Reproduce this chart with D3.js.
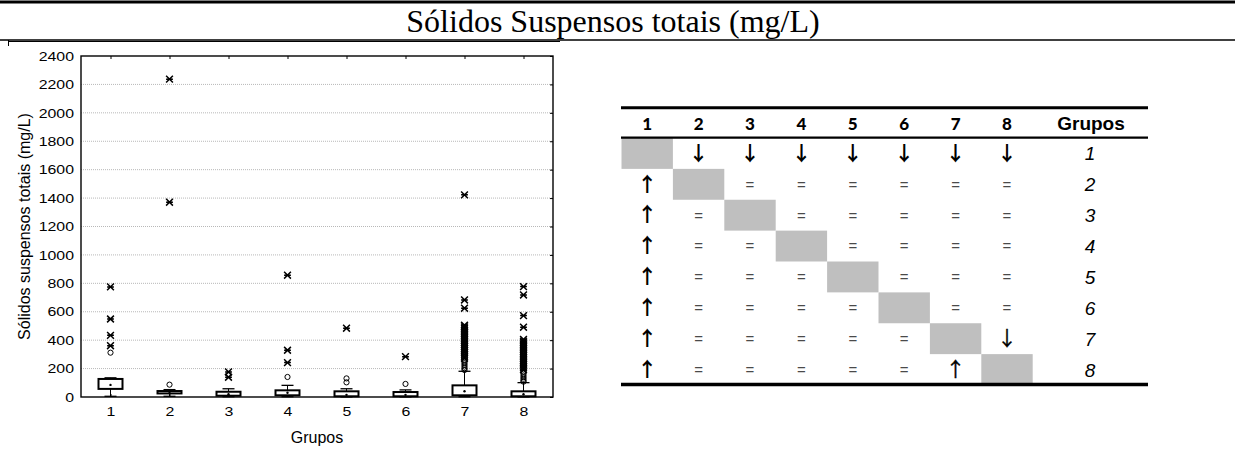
<!DOCTYPE html>
<html><head><meta charset="utf-8">
<script src="https://cdn.jsdelivr.net/npm/d3@7"></script>
<style>body{margin:0;background:#fff;} svg{display:block;}</style>
</head><body>
<svg id="c" width="1235" height="450"></svg>
<script>
// ---------- data ----------
const titleText = "Sólidos Suspensos totais (mg/L)";
const yLabel = "Sólidos suspensos totais (mg/L)";
const xLabel = "Grupos";
const groups = ["1","2","3","4","5","6","7","8"];
const yTickValues = [0,200,400,600,800,1000,1200,1400,1600,1800,2000,2200,2400];
const whiskerLow  = [5, 5, 2, 2, 1, 1, 2, 1];
const q1          = [57, 25, 9, 12, 5, 5, 12, 5];
const median      = [85, 35, 20, 30, 15, 15, 40, 19];
const q3          = [127, 42, 37, 47, 40, 35, 82, 40];
const whiskerHigh = [135, 52, 58, 82, 58, 50, 181, 101];
const outliers = [
  [312],
  [87],
  [],
  [141],
  [131, 103],
  [92],
  [262, 250, 238, 226, 214, 202, 190],
  [178, 165, 152, 140, 128, 116, 108]
];
const extremes = [
  [775, 549, 434, 361],
  [2237, 1371],
  [176, 139],
  [857, 329, 242],
  [484],
  [284],
  [1423, 683, 625, 505, 493, 481, 469, 456, 444, 432, 420, 407, 395, 383, 370, 357, 343, 329, 315, 300, 286, 273],
  [777, 718, 573, 491, 405, 393, 381, 369, 356, 344, 331, 319, 306, 293, 281, 268, 256, 243, 230, 218, 205, 192]
];
const tableHeader = ["1","2","3","4","5","6","7","8"];
const tableGroupHeader = "Grupos";
const rowLabels = ["1","2","3","4","5","6","7","8"];
const tableCells = [
  ["",  "↓","↓","↓","↓","↓","↓","↓"],
  ["↑", "", "=","=","=","=","=","="],
  ["↑", "=","", "=","=","=","=","="],
  ["↑", "=","=","", "=","=","=","="],
  ["↑", "=","=","=","", "=","=","="],
  ["↑", "=","=","=","=","", "=","="],
  ["↑", "=","=","=","=","=","", "↓"],
  ["↑", "=","=","=","=","=","↑",""]
];

// ---------- drawing ----------
const svg = d3.select("#c");
svg.append("rect").attr("width",1235).attr("height",450).attr("fill","#fff");

function stretch(sel, k) {
  sel.each(function () {
    const len = this.getComputedTextLength();
    if (len > 0) d3.select(this).attr("textLength", len * k).attr("lengthAdjust", "spacingAndGlyphs");
  });
}

// page lines (title box)
svg.append("line").attr("x1",0).attr("x2",1235).attr("y1",2).attr("y2",2).attr("stroke","#000").attr("stroke-width",3);
svg.append("line").attr("x1",0).attr("x2",1235).attr("y1",40).attr("y2",40).attr("stroke","#000").attr("stroke-width",1.5);
svg.append("line").attr("x1",8).attr("x2",560).attr("y1",41.5).attr("y2",41.5).attr("stroke","#000").attr("stroke-width",1);
svg.append("line").attr("x1",8.5).attr("x2",8.5).attr("y1",40).attr("y2",46).attr("stroke","#000").attr("stroke-width",1);

svg.append("text").attr("x",613).attr("y",32).attr("text-anchor","middle")
  .attr("font-family","'Liberation Serif','Times New Roman',serif").attr("font-size",32)
  .text(titleText);

// ---------- box plot ----------
const x = d3.scaleLinear().domain([0.5, 8.5]).range([81, 553]);
const y = d3.scaleLinear().domain([0, 2400]).range([397, 56]);
const font = "'Liberation Sans',Arial,sans-serif";

const g = svg.append("g");
// grid
g.selectAll("line.grid").data(yTickValues.filter(v => v > 0 && v < 2400)).join("line")
  .attr("x1", x(0.5)).attr("x2", x(8.5)).attr("y1", d => y(d)).attr("y2", d => y(d))
  .attr("stroke", "#b8b8b8").attr("stroke-width", 1).attr("stroke-dasharray", "1,1");

// axes
const yAxis = g.append("g").attr("transform", `translate(${x(0.5)},0)`)
  .call(d3.axisLeft(y).tickValues(yTickValues).tickFormat(d => String(d)).tickSize(0).tickPadding(7));
const xAxis = g.append("g").attr("transform", `translate(0,${y(0)})`)
  .call(d3.axisBottom(x).tickValues(d3.range(1, 9)).tickFormat(d => groups[d - 1]).tickSize(-3).tickPadding(10));
const rAxis = g.append("g").attr("transform", `translate(${x(8.5)},0)`)
  .call(d3.axisRight(y).tickValues(yTickValues).tickSize(-3).tickFormat(""));
const tAxis = g.append("g").attr("transform", `translate(0,${y(2400)})`)
  .call(d3.axisTop(x).tickValues(d3.range(1, 9)).tickSize(-3).tickFormat(""));
[yAxis, xAxis, rAxis, tAxis].forEach(a => {
  a.select(".domain").remove();
  a.selectAll("text").attr("font-family", font).attr("font-size", 13).attr("fill", "#000");
  a.selectAll("line").attr("stroke", "#000");
});
stretch(yAxis.selectAll("text"), 1.22);
stretch(xAxis.selectAll("text"), 1.22);

g.append("rect").attr("x", x(0.5)).attr("y", y(2400)).attr("width", x(8.5) - x(0.5)).attr("height", y(0) - y(2400))
  .attr("fill", "none").attr("stroke", "#000").attr("stroke-width", 1.4);

// labels
g.append("text").attr("transform", `translate(${(x(0.5)+x(8.5))/2},443)`).attr("text-anchor", "middle")
  .attr("font-family", font).attr("font-size", 16).text(xLabel);
g.append("text").attr("transform", `translate(30,${(y(0)+y(2400))/2}) rotate(-90)`).attr("text-anchor", "middle")
  .attr("font-family", font).attr("font-size", 16).text(yLabel);

// boxes
const boxW = 24, capW = 12;
groups.forEach((grp, i) => {
  const cx = x(i + 1);
  const bg = g.append("g");
  bg.append("line").attr("x1", cx).attr("x2", cx).attr("y1", y(whiskerHigh[i])).attr("y2", y(q3[i])).attr("stroke", "#000");
  bg.append("line").attr("x1", cx).attr("x2", cx).attr("y1", y(q1[i])).attr("y2", y(whiskerLow[i])).attr("stroke", "#000");
  bg.append("line").attr("x1", cx - capW/2).attr("x2", cx + capW/2).attr("y1", y(whiskerHigh[i])).attr("y2", y(whiskerHigh[i])).attr("stroke", "#000").attr("stroke-width", 1.3);
  bg.append("line").attr("x1", cx - capW/2).attr("x2", cx + capW/2).attr("y1", y(whiskerLow[i])).attr("y2", y(whiskerLow[i])).attr("stroke", "#000").attr("stroke-width", 1.3);
  bg.append("rect").attr("x", cx - boxW/2).attr("y", y(q3[i])).attr("width", boxW).attr("height", y(q1[i]) - y(q3[i]))
    .attr("fill", "#fff").attr("stroke", "#000").attr("stroke-width", 2);
  bg.append("circle").attr("cx", cx).attr("cy", y(median[i])).attr("r", 1.2).attr("fill", "#000");
  bg.selectAll("circle.out").data(outliers[i]).join("circle").attr("class", "out")
    .attr("cx", cx).attr("cy", d => y(d)).attr("r", 2.6).attr("fill", "none").attr("stroke", "#000").attr("stroke-width", 1);
  const s = 3.4;
  const star = `M${-s},0H${s}M${-s},${-s}L${s},${s}M${-s},${s}L${s},${-s}`;
  bg.selectAll("path.ext").data(extremes[i]).join("path").attr("class", "ext")
    .attr("transform", d => `translate(${cx},${y(d)})`).attr("d", star)
    .attr("stroke", "#000").attr("stroke-width", 1.5).attr("fill", "none");
});

// ---------- table ----------
const colX = d3.scaleBand().domain(d3.range(8)).range([621.5, 1032.7]);
const rowY = d3.scaleBand().domain(d3.range(8)).range([138, 385]);
const tg = svg.append("g");
tg.selectAll("rect.diag").data(d3.range(8)).join("rect").attr("class", "diag")
  .attr("x", d => colX(d)).attr("y", d => rowY(d)).attr("width", colX.bandwidth()).attr("height", rowY.bandwidth())
  .attr("fill", "#bfbfbf");
tg.append("line").attr("x1", 621).attr("x2", 1148).attr("y1", 107.7).attr("y2", 107.7).attr("stroke", "#000").attr("stroke-width", 3);
tg.append("line").attr("x1", 621).attr("x2", 1148).attr("y1", 137.7).attr("y2", 137.7).attr("stroke", "#000").attr("stroke-width", 2.3);
tg.append("line").attr("x1", 621).attr("x2", 1148).attr("y1", 384.5).attr("y2", 384.5).attr("stroke", "#000").attr("stroke-width", 3.5);

tg.selectAll("text.hdr").data(tableHeader).join("text").attr("class", "hdr")
  .attr("x", (d, i) => colX(i) + colX.bandwidth()/2).attr("y", 129.5).attr("text-anchor", "middle")
  .attr("font-family", "Lato,'Noto Sans',sans-serif").attr("font-weight", "900").attr("font-size", 17).text(d => d);
tg.append("text").attr("x", 1091).attr("y", 129.5).attr("text-anchor", "middle")
  .attr("font-family", font).attr("font-weight", "bold").attr("font-size", 19).text(tableGroupHeader);

tg.selectAll("text.rl").data(rowLabels).join("text").attr("class", "rl")
  .attr("x", 1090).attr("y", (d, i) => rowY(i) + rowY.bandwidth()/2 + 7).attr("text-anchor", "middle")
  .attr("font-family", font).attr("font-style", "italic").attr("font-size", 19).text(d => d);

const cells = [];
tableCells.forEach((row, r) => row.forEach((v, c) => { if (v) cells.push({r, c, v}); }));
const isBold = d => d.v !== "=" && (d.r === 0 || d.c === 0);
tg.selectAll("text.cell").data(cells).join("text").attr("class", "cell")
  .attr("x", d => colX(d.c) + colX.bandwidth()/2)
  .attr("y", d => rowY(d.r) + rowY.bandwidth()/2)
  .attr("text-anchor", "middle")
  .attr("dy", "0.36em")
  .attr("font-family", d => d.v === "=" ? font : "'Noto Sans CJK SC','Noto Sans CJK JP','DejaVu Sans',sans-serif")
  .attr("font-weight", d => isBold(d) ? "bold" : "normal")
  .attr("font-size", d => d.v === "=" ? 15 : 20)
  .attr("fill", d => d.v === "=" ? "#4a4a4a" : "#000")
  .attr("stroke", d => (d.v !== "=" && !isBold(d)) ? "#000" : "none")
  .attr("stroke-width", 0.35)
  .text(d => d.v === "=" ? d.v : d.v + "\uFE0E");
</script>
</body></html>
